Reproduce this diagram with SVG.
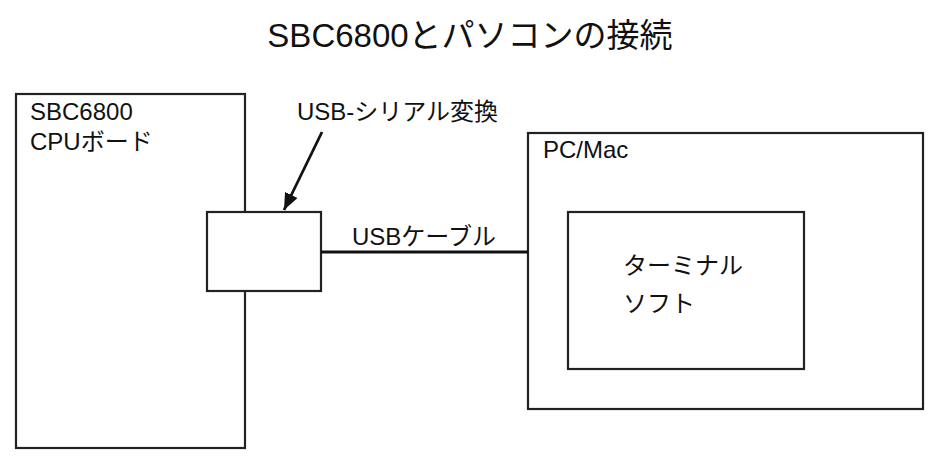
<svg xmlns="http://www.w3.org/2000/svg" width="939" height="465" viewBox="0 0 939 465">
<style>
.box{fill:#fff;stroke:#222;stroke-width:2.2}
.t{font-family:"Liberation Sans","Noto Sans CJK JP",sans-serif;fill:#111}
.lbl{font-size:24px}
.title{font-size:33px}
.conn{stroke:#111;stroke-width:2.8;fill:none}
</style>
<defs>
<marker id="ah" markerWidth="6" markerHeight="5" refX="6" refY="2.5" orient="auto" markerUnits="strokeWidth">
<path d="M0,0 L6,2.5 L0,5 Z" fill="#111"/>
</marker>
</defs>
<rect width="939" height="465" fill="#fff"/>
<text class="t title" x="470" y="47" text-anchor="middle">SBC6800とパソコンの接続</text>
<g id="cpu-board">
<rect class="box" x="16" y="94" width="229" height="354"/>
<text class="t lbl" x="30" y="120">SBC6800</text>
<text class="t lbl" x="30" y="150">CPUボード</text>
</g>
<g id="usb-serial">
<rect class="box" x="207" y="212" width="114" height="79"/>
</g>
<g id="pc-mac">
<rect class="box" x="528" y="133" width="395" height="276"/>
<text class="t lbl" x="543" y="158">PC/Mac</text>
</g>
<g id="terminal-soft">
<rect class="box" x="568" y="212" width="236" height="157"/>
<text class="t lbl" x="623" y="274">ターミナル</text>
<text class="t lbl" x="623" y="312">ソフト</text>
</g>
<g id="connectors">
<line class="conn" x1="321" y1="252" x2="528" y2="252"/>
<text class="t lbl" x="352" y="245">USBケーブル</text>
<line class="conn" x1="322" y1="132" x2="284" y2="210" marker-end="url(#ah)"/>
<text class="t lbl" x="297" y="120">USB-シリアル変換</text>
</g>
</svg>
